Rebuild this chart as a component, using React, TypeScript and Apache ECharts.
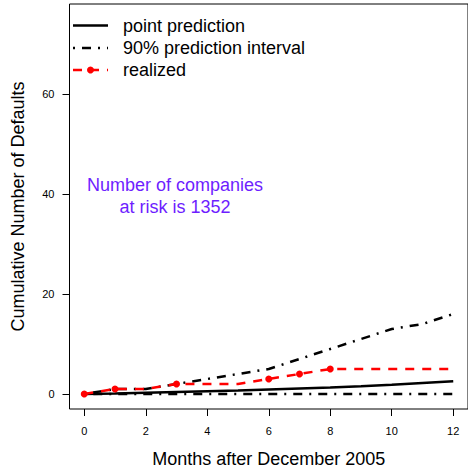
import React, { useEffect, useRef } from "react";
import * as echarts from "echarts";

// Months after December 2005
const months = [0, 1, 2, 3, 4, 5, 6, 7, 8, 9, 10, 11, 12];
// Model point prediction of the cumulative number of defaults
const pointPrediction = [0, 0.1, 0.25, 0.4, 0.55, 0.7, 0.9, 1.1, 1.3, 1.55, 1.85, 2.2, 2.55];
// 90% prediction interval bounds
const upperBound = [0, 1, 1, 2, 3, 4, 5, 7, 9, 11, 13, 14, 16];
const lowerBound = [0, 0, 0, 0, 0, 0, 0, 0, 0, 0, 0, 0, 0];
// Realized cumulative defaults
const realized = [0, 1, 1, 2, 2, 2, 3, 4, 5, 5, 5, 5, 5];
// Months in which the realized count changed (marked with a dot)
const realizedEvents = [0, 1, 3, 6, 7, 8];

const xTicks = [0, 2, 4, 6, 8, 10, 12];
const yTicks = [0, 20, 40, 60];

const legendLabels = ["point prediction", "90% prediction interval", "realized"];
const noteText = "Number of companies\nat risk is 1352";

const FONT = "'Liberation Sans', Arial, Helvetica, sans-serif";
const DOT_DASH = [2, 7, 9, 7];
const DASH = [9, 8];

export default function App() {
  const ref = useRef<HTMLDivElement>(null);

  useEffect(() => {
    if (!ref.current) return;
    const chart = echarts.init(ref.current, undefined, { renderer: "svg" });

    const pairs = (ys: number[]) => months.map((m, i) => [m, ys[i]]);

    const realizedData = months.map((m, i) => ({
      value: [m, realized[i]],
      symbol: realizedEvents.includes(m) ? "circle" : "none",
    }));

    const legendY = [25.5, 48, 70];
    const lx1 = 73;
    const lx2 = 108;
    const tx = 123;

    chart.setOption({
      animation: false,
      backgroundColor: "#fff",
      textStyle: { fontFamily: FONT },
      grid: {
        left: 69.5,
        top: 4,
        width: 401,
        height: 405,
        show: true,
        borderColor: "#000",
        borderWidth: 1,
        backgroundColor: "transparent",
      },
      xAxis: {
        type: "value",
        min: -0.48,
        max: 12.48,
        axisLine: { show: false, onZero: false },
        splitLine: { show: false },
        axisTick: {
          show: true,
          customValues: xTicks,
          length: 7,
          lineStyle: { color: "#000", width: 1 },
        },
        axisLabel: {
          customValues: xTicks,
          margin: 16,
          fontSize: 11,
          color: "#000",
          fontFamily: FONT,
        },
        name: "Months after December 2005",
        nameLocation: "middle",
        nameGap: 41,
        nameTextStyle: { fontSize: 18, color: "#000", fontFamily: FONT },
      },
      yAxis: {
        type: "value",
        min: -3,
        max: 78,
        axisLine: { show: false, onZero: false },
        splitLine: { show: false },
        axisTick: {
          show: true,
          customValues: yTicks,
          length: 7,
          lineStyle: { color: "#000", width: 1 },
        },
        axisLabel: {
          customValues: yTicks,
          margin: 15,
          fontSize: 11,
          color: "#000",
          fontFamily: FONT,
        },
        name: "Cumulative Number of Defaults",
        nameLocation: "middle",
        nameGap: 43,
        nameTextStyle: { fontSize: 18, color: "#000", fontFamily: FONT },
      },
      series: [
        {
          name: legendLabels[0],
          type: "line",
          data: pairs(pointPrediction),
          symbol: "none",
          silent: true,
          lineStyle: { color: "#000", width: 2.5 },
        },
        {
          name: legendLabels[1],
          type: "line",
          data: pairs(upperBound),
          symbol: "none",
          silent: true,
          lineStyle: { color: "#000", width: 2.5, type: DOT_DASH },
        },
        {
          name: legendLabels[1] + " (lower)",
          type: "line",
          data: pairs(lowerBound),
          symbol: "none",
          silent: true,
          lineStyle: { color: "#000", width: 2.5, type: DOT_DASH },
        },
        {
          name: legendLabels[2],
          type: "line",
          data: realizedData,
          showSymbol: true,
          symbolSize: 7,
          silent: true,
          itemStyle: { color: "#ff0000" },
          lineStyle: { color: "#ff0000", width: 2.5, type: DASH },
        },
      ],
      graphic: [
        {
          type: "line",
          shape: { x1: lx1, y1: legendY[0], x2: lx2, y2: legendY[0] },
          style: { stroke: "#000", lineWidth: 2.5 },
        },
        {
          type: "line",
          shape: { x1: lx1, y1: legendY[1], x2: lx2, y2: legendY[1] },
          style: { stroke: "#000", lineWidth: 2.5, lineDash: DOT_DASH },
        },
        {
          type: "line",
          shape: { x1: lx1, y1: legendY[2], x2: lx2, y2: legendY[2] },
          style: { stroke: "#ff0000", lineWidth: 2.5, lineDash: DASH },
        },
        {
          type: "circle",
          shape: { cx: (lx1 + lx2) / 2, cy: legendY[2], r: 3.5 },
          style: { fill: "#ff0000" },
        },
        ...legendLabels.map((label, i) => ({
          type: "text",
          x: tx,
          y: legendY[i],
          style: {
            text: label,
            fontSize: 18,
            fontFamily: FONT,
            fill: "#000",
            textVerticalAlign: "middle",
            textAlign: "left",
          },
        })),
        {
          type: "text",
          x: 175,
          y: 195.5,
          style: {
            text: noteText,
            fontSize: 18,
            lineHeight: 22,
            fontFamily: FONT,
            fill: "#6e1eff",
            textAlign: "center",
            textVerticalAlign: "middle",
          },
        },
      ],
    });

    return () => chart.dispose();
  }, []);

  return (
    <div
      ref={ref}
      style={{ position: "fixed", left: 0, top: 0, width: 468, height: 473 }}
    />
  );
}
